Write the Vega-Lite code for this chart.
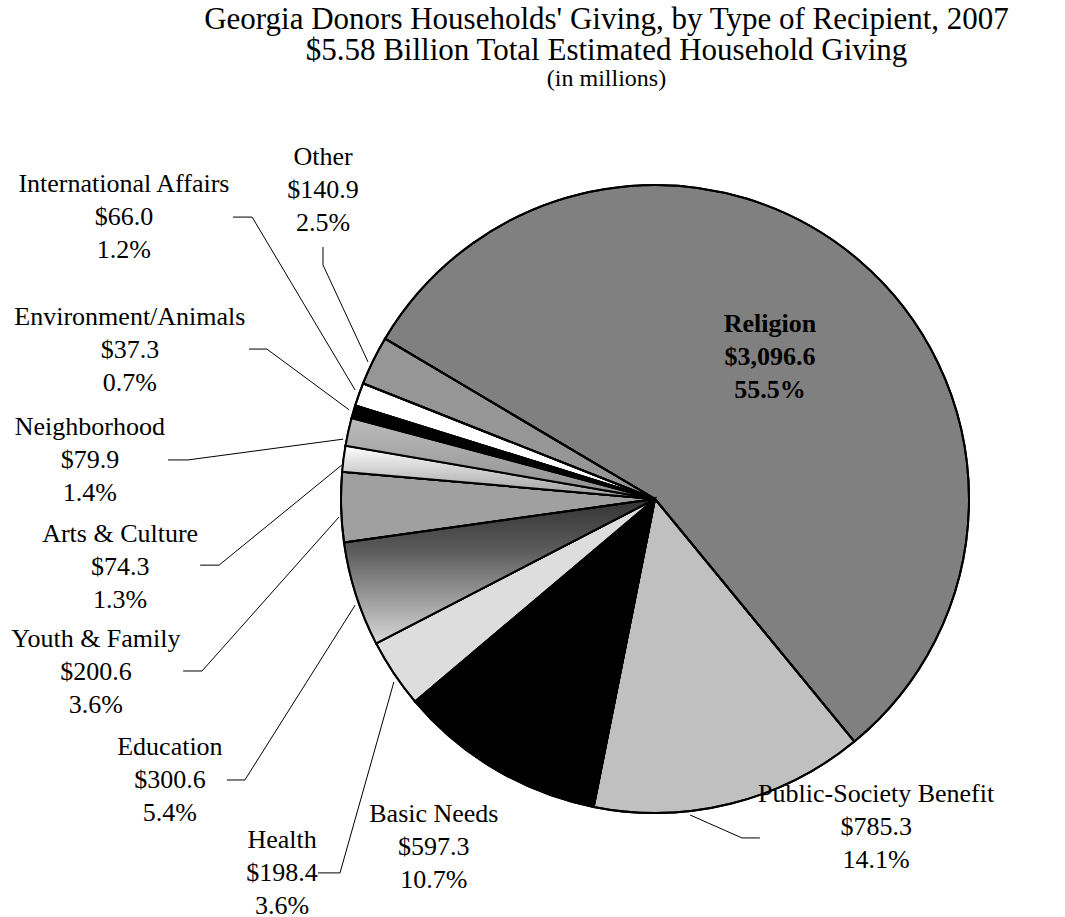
{
  "$schema": "https://vega.github.io/schema/vega-lite/v6.json",
  "width": 1065,
  "height": 817,
  "autosize": {"type": "none"},
  "padding": {"top": 100, "left": 0, "right": 0, "bottom": 0},
  "background": "white",
  "config": {"view": {"stroke": null}, "font": "Liberation Serif"},
  "title": {
    "text": ["Georgia Donors Households' Giving, by Type of Recipient, 2007", "$5.58 Billion Total Estimated Household Giving"],
    "subtitle": "(in millions)",
    "font": "Liberation Serif",
    "fontSize": 31,
    "fontWeight": "normal",
    "color": "black",
    "lineHeight": 31,
    "subtitleFont": "Liberation Serif",
    "subtitleFontSize": 24,
    "subtitleColor": "black",
    "subtitleLineHeight": 26,
    "subtitlePadding": 0,
    "anchor": "middle",
    "frame": "group",
    "dx": 74,
    "offset": 8
  },
  "datasets": {
    "slices": [
      {"cat": "Religion", "value": 3096.6, "pct": 0.555, "ord": 1},
      {"cat": "Public-Society Benefit", "value": 785.3, "pct": 0.141, "ord": 2},
      {"cat": "Basic Needs", "value": 597.3, "pct": 0.107, "ord": 3},
      {"cat": "Health", "value": 198.4, "pct": 0.036, "ord": 4},
      {"cat": "Education", "value": 300.6, "pct": 0.054, "ord": 5},
      {"cat": "Youth & Family", "value": 200.6, "pct": 0.036, "ord": 6},
      {"cat": "Arts & Culture", "value": 74.3, "pct": 0.013, "ord": 7},
      {"cat": "Neighborhood", "value": 79.9, "pct": 0.014, "ord": 8},
      {"cat": "Environment/Animals", "value": 37.3, "pct": 0.007, "ord": 9},
      {"cat": "International Affairs", "value": 66.0, "pct": 0.012, "ord": 10},
      {"cat": "Other", "value": 140.9, "pct": 0.025, "ord": 11}
    ],
    "labels": [
      {"cat": "Religion", "lx": 0.365, "ly": 0.451},
      {"cat": "Public-Society Benefit", "lx": 0.702, "ly": -1.041},
      {"cat": "Basic Needs", "lx": -0.702, "ly": -1.105},
      {"cat": "Health", "lx": -1.184, "ly": -1.187},
      {"cat": "Education", "lx": -1.54, "ly": -0.892},
      {"cat": "Youth & Family", "lx": -1.775, "ly": -0.549},
      {"cat": "Arts & Culture", "lx": -1.698, "ly": -0.216},
      {"cat": "Neighborhood", "lx": -1.794, "ly": 0.124},
      {"cat": "Environment/Animals", "lx": -1.667, "ly": 0.473},
      {"cat": "International Affairs", "lx": -1.686, "ly": 0.895},
      {"cat": "Other", "lx": -1.054, "ly": 0.981}
    ],
    "leaders": [
      {"cat": "Other", "seq": 1, "u": -1.054, "v": 0.8},
      {"cat": "Other", "seq": 2, "u": -1.054, "v": 0.743},
      {"cat": "Other", "seq": 3, "u": -0.911, "v": 0.435},
      {"cat": "International Affairs", "seq": 1, "u": -1.34, "v": 0.895},
      {"cat": "International Affairs", "seq": 2, "u": -1.279, "v": 0.895},
      {"cat": "International Affairs", "seq": 3, "u": -0.952, "v": 0.346},
      {"cat": "Environment/Animals", "seq": 1, "u": -1.289, "v": 0.476},
      {"cat": "Environment/Animals", "seq": 2, "u": -1.232, "v": 0.476},
      {"cat": "Environment/Animals", "seq": 3, "u": -0.971, "v": 0.283},
      {"cat": "Neighborhood", "seq": 1, "u": -1.546, "v": 0.124},
      {"cat": "Neighborhood", "seq": 2, "u": -1.483, "v": 0.124},
      {"cat": "Neighborhood", "seq": 3, "u": -0.99, "v": 0.19},
      {"cat": "Arts & Culture", "seq": 1, "u": -1.444, "v": -0.21},
      {"cat": "Arts & Culture", "seq": 2, "u": -1.384, "v": -0.21},
      {"cat": "Arts & Culture", "seq": 3, "u": -0.994, "v": 0.108},
      {"cat": "Youth & Family", "seq": 1, "u": -1.498, "v": -0.546},
      {"cat": "Youth & Family", "seq": 2, "u": -1.438, "v": -0.546},
      {"cat": "Youth & Family", "seq": 3, "u": -1.003, "v": -0.057},
      {"cat": "Education", "seq": 1, "u": -1.359, "v": -0.892},
      {"cat": "Education", "seq": 2, "u": -1.302, "v": -0.892},
      {"cat": "Education", "seq": 3, "u": -0.952, "v": -0.337},
      {"cat": "Health", "seq": 1, "u": -1.07, "v": -1.187},
      {"cat": "Health", "seq": 2, "u": -1.0, "v": -1.187},
      {"cat": "Health", "seq": 3, "u": -0.829, "v": -0.581},
      {"cat": "Public-Society Benefit", "seq": 1, "u": 0.333, "v": -1.076},
      {"cat": "Public-Society Benefit", "seq": 2, "u": 0.276, "v": -1.076},
      {"cat": "Public-Society Benefit", "seq": 3, "u": 0.111, "v": -1.003}
    ]
  },
  "layer": [
    {
      "data": {"name": "slices"},
      "mark": {"type": "arc", "outerRadius": 314, "stroke": "black", "strokeWidth": 2},
      "encoding": {
        "theta": {"field": "value", "type": "quantitative", "stack": true, "scale": {"range": [-1.035, 5.2482]}},
        "order": {"field": "ord", "type": "quantitative"},
        "x": {"datum": 0, "type": "quantitative", "scale": {"domain": [-2.0794, 1.3016], "zero": false, "nice": false}, "axis": null},
        "y": {"datum": 0, "type": "quantitative", "scale": {"domain": [-1.327, 1.2667], "zero": false, "nice": false}, "axis": null},
        "fill": {
          "field": "cat", "type": "nominal", "legend": null,
          "scale": {
            "domain": ["Religion", "Public-Society Benefit", "Basic Needs", "Health", "Education", "Youth & Family", "Arts & Culture", "Neighborhood", "Environment/Animals", "International Affairs", "Other"],
            "range": ["#808080", "#c0c0c0", "#000000", "#dddddd", "#8a8a8a", "#a0a0a0", "#e0e0e0", "#a8a8a8", "#000000", "#ffffff", "#969696"]
          }
        }
      }
    },
    {
      "data": {"name": "slices"},
      "mark": {"type": "arc", "outerRadius": 314, "stroke": "black", "strokeWidth": 2},
      "encoding": {
        "theta": {"field": "value", "type": "quantitative", "stack": true, "scale": {"range": [-1.035, 5.2482]}},
        "order": {"field": "ord", "type": "quantitative"},
        "x": {"datum": 0, "type": "quantitative", "scale": {"domain": [-2.0794, 1.3016], "zero": false, "nice": false}, "axis": null},
        "y": {"datum": 0, "type": "quantitative", "scale": {"domain": [-1.327, 1.2667], "zero": false, "nice": false}, "axis": null},
        "fill": {
          "condition": [
            {"test": "datum.cat === 'Education'", "value": {"gradient": "linear", "x1": 0, "y1": 0, "x2": 0, "y2": 1, "stops": [{"offset": 0, "color": "#333333"}, {"offset": 0.35, "color": "#5a5a5a"}, {"offset": 1, "color": "#d8d8d8"}]}},
            {"test": "datum.cat === 'Arts & Culture'", "value": {"gradient": "linear", "x1": 0, "y1": 0, "x2": 0, "y2": 1, "stops": [{"offset": 0, "color": "#ffffff"}, {"offset": 1, "color": "#9a9a9a"}]}},
            {"test": "datum.cat === 'Neighborhood'", "value": {"gradient": "linear", "x1": 0, "y1": 0, "x2": 0, "y2": 1, "stops": [{"offset": 0, "color": "#bcbcbc"}, {"offset": 1, "color": "#8c8c8c"}]}}
          ],
          "value": "transparent"
        }
      }
    },
    {
      "data": {"name": "leaders"},
      "mark": {"type": "line", "color": "black", "strokeWidth": 1},
      "encoding": {
        "x": {"field": "u", "type": "quantitative", "scale": {"domain": [-2.0794, 1.3016], "zero": false, "nice": false}, "axis": null},
        "y": {"field": "v", "type": "quantitative", "scale": {"domain": [-1.327, 1.2667], "zero": false, "nice": false}, "axis": null},
        "detail": {"field": "cat", "type": "nominal"},
        "order": {"field": "seq", "type": "quantitative"}
      }
    },
    {
      "data": {"name": "labels"},
      "transform": [
        {"lookup": "cat", "from": {"data": {"name": "slices"}, "key": "cat", "fields": ["value", "pct"]}},
        {"filter": "datum.cat !== 'Religion'"}
      ],
      "encoding": {
        "x": {"field": "lx", "type": "quantitative", "scale": {"domain": [-2.0794, 1.3016], "zero": false, "nice": false}, "axis": null},
        "y": {"field": "ly", "type": "quantitative", "scale": {"domain": [-1.327, 1.2667], "zero": false, "nice": false}, "axis": null}
      },
      "layer": [
        {"mark": {"type": "text", "fontSize": 26, "font": "Liberation Serif", "color": "black", "dy": -33}, "encoding": {"text": {"field": "cat", "type": "nominal"}}},
        {"mark": {"type": "text", "fontSize": 26, "font": "Liberation Serif", "color": "black", "dy": 0}, "encoding": {"text": {"field": "value", "type": "quantitative", "format": "$,.1f"}}},
        {"mark": {"type": "text", "fontSize": 26, "font": "Liberation Serif", "color": "black", "dy": 33}, "encoding": {"text": {"field": "pct", "type": "quantitative", "format": ".1%"}}}
      ]
    },
    {
      "data": {"name": "labels"},
      "transform": [
        {"lookup": "cat", "from": {"data": {"name": "slices"}, "key": "cat", "fields": ["value", "pct"]}},
        {"filter": "datum.cat === 'Religion'"}
      ],
      "encoding": {
        "x": {"field": "lx", "type": "quantitative", "scale": {"domain": [-2.0794, 1.3016], "zero": false, "nice": false}, "axis": null},
        "y": {"field": "ly", "type": "quantitative", "scale": {"domain": [-1.327, 1.2667], "zero": false, "nice": false}, "axis": null}
      },
      "layer": [
        {"mark": {"type": "text", "fontSize": 26, "font": "Liberation Serif", "fontWeight": "bold", "color": "black", "dy": -33}, "encoding": {"text": {"field": "cat", "type": "nominal"}}},
        {"mark": {"type": "text", "fontSize": 26, "font": "Liberation Serif", "fontWeight": "bold", "color": "black", "dy": 0}, "encoding": {"text": {"field": "value", "type": "quantitative", "format": "$,.1f"}}},
        {"mark": {"type": "text", "fontSize": 26, "font": "Liberation Serif", "fontWeight": "bold", "color": "black", "dy": 33}, "encoding": {"text": {"field": "pct", "type": "quantitative", "format": ".1%"}}}
      ]
    }
  ]
}
